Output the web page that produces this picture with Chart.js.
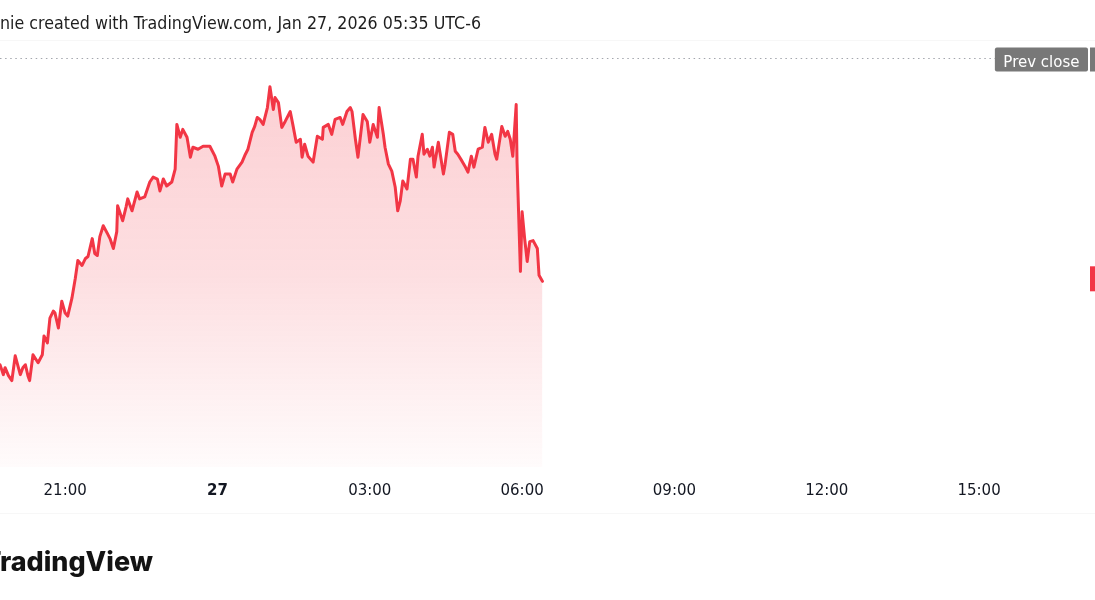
<!DOCTYPE html>
<html>
<head>
<meta charset="utf-8">
<script src="https://cdn.jsdelivr.net/npm/chart.js@4/dist/chart.umd.min.js"></script>
<style>
  html, body { margin: 0; padding: 0; background: #ffffff; }
  #wrap { position: relative; width: 1095px; height: 600px; overflow: hidden; background: #ffffff; }
  #chart { position: absolute; left: 0; top: 0; }
  #title { position: absolute; left: 0; top: 14px; white-space: nowrap; font-family: "DejaVu Sans", sans-serif; font-size: 18px; line-height: 1; color: #1e1e1e; transform-origin: 0 0; }
  #logo { position: absolute; top: 546px; white-space: nowrap; font-family: Inter, "Noto Sans", sans-serif; font-weight: 800; font-size: 29px; line-height: 1; color: #131313; }
  .sep { position: absolute; left: 0; width: 1095px; height: 1px; background: #f7f7f7; }
</style>
</head>
<body>
<div id="wrap">
  <canvas id="chart" width="1095" height="600"></canvas>
  <div class="sep" style="top:40px"></div>
  <div class="sep" style="top:513px"></div>
  <div id="title"></div>
  <div id="logo"></div>
</div>
<script>
// ---- texts ----
const titleText = "nie created with TradingView.com, Jan 27, 2026 05:35 UTC-6";
const logoText = "TradingView";
const prevCloseLabel = "Prev close";

// ---- visible time window (axis times) ----
const viewStart = "19:43";
const viewEnd = "17:17";

// ---- tick labels ----
const tickTimes  = ["21:00", "00:00", "03:00", "06:00", "09:00", "12:00", "15:00"];
const tickLabels = ["21:00", "27",    "03:00", "06:00", "09:00", "12:00", "15:00"];
const boldTickLabels = ["27"];

// ---- price range shown and previous close ----
const prevClose = 100.00;
const yMin = 95.88;
const yMax = 100.18;

// ---- series: times (axis clock) and prices ----
const times = [
  "19:43","19:47","19:49","19:53","19:57","20:01","20:07","20:10","20:13","20:16",
  "20:18","20:22","20:28","20:33","20:35","20:39","20:42","20:46","20:48","20:52",
  "20:56","21:00","21:03","21:08","21:12","21:15","21:20","21:24","21:27","21:32",
  "21:35","21:38","21:41","21:45","21:50","21:53","21:57","22:01","22:02","22:08",
  "22:12","22:14","22:19","22:25","22:28","22:34","22:40","22:44","22:49","22:52",
  "22:56","23:00","23:06","23:10","23:12","23:16","23:19","23:24","23:28","23:31",
  "23:37","23:43","23:51","23:57","00:01","00:05","00:09","00:15","00:18","00:23",
  "00:29","00:33","00:36","00:41","00:44","00:47","00:50","00:54","00:59","01:02",
  "01:06","01:08","01:12","01:16","01:20","01:26","01:29","01:33","01:38","01:40",
  "01:43","01:47","01:53","01:58","02:04","02:05","02:11","02:15","02:19","02:25",
  "02:28","02:33","02:37","02:39","02:43","02:46","02:52","02:57","03:00","03:04",
  "03:09","03:11","03:16","03:18","03:22","03:26","03:30","03:33","03:36","03:39",
  "03:44","03:48","03:51","03:55","03:57","04:02","04:04","04:08","04:11","04:14",
  "04:16","04:21","04:27","04:29","04:34","04:38","04:41","04:44","04:49","04:53",
  "04:56","05:00","05:03","05:08","05:13","05:16","05:20","05:24","05:28","05:30",
  "05:36","05:40","05:43","05:46","05:49","05:53","05:54","05:58","06:00","06:03",
  "06:06","06:09","06:13","06:18","06:20","06:24"
];
const prices = [
  96.91,96.81,96.88,96.80,96.75,97.00,96.81,96.88,96.91,96.80,
  96.75,97.01,96.93,97.01,97.20,97.13,97.38,97.45,97.43,97.28,
  97.55,97.43,97.40,97.58,97.78,97.96,97.91,97.98,98.00,98.18,
  98.03,98.01,98.20,98.31,98.23,98.18,98.08,98.25,98.51,98.36,
  98.50,98.58,98.46,98.65,98.58,98.60,98.75,98.80,98.78,98.66,
  98.78,98.71,98.75,98.88,99.33,99.20,99.28,99.20,99.00,99.10,
  99.08,99.11,99.11,99.01,98.91,98.71,98.83,98.83,98.75,98.88,
  98.95,99.03,99.08,99.25,99.31,99.40,99.38,99.33,99.50,99.71,
  99.48,99.60,99.55,99.30,99.36,99.46,99.33,99.15,99.18,99.00,
  99.13,99.01,98.95,99.21,99.18,99.30,99.33,99.23,99.38,99.40,
  99.33,99.46,99.50,99.46,99.18,99.00,99.43,99.36,99.15,99.33,
  99.20,99.50,99.23,99.10,98.93,98.86,98.70,98.46,98.56,98.76,
  98.68,98.98,98.98,98.80,99.01,99.23,99.03,99.08,99.01,99.10,
  98.90,99.15,98.83,98.93,99.25,99.23,99.06,99.03,98.96,98.90,
  98.85,99.01,98.90,99.08,99.10,99.30,99.15,99.23,99.03,98.98,
  99.31,99.21,99.26,99.18,99.01,99.53,98.95,97.85,98.45,98.18,
  97.95,98.15,98.16,98.08,97.81,97.75
];

// ---- colours ----
const lineColor = "#f23645";

function toMinutes(t) {
  const [h, m] = t.split(":").map(Number);
  const [sh, sm] = viewStart.split(":").map(Number);
  let v = h * 60 + m;
  if (v < sh * 60 + sm) v += 1440;
  return v;
}
const tickValues = tickTimes.map(toMinutes);
const points = times.map((t, i) => ({ x: toMinutes(t), y: prices[i] }));

// ---- header / footer text ----
const titleEl = document.getElementById("title");
titleEl.textContent = titleText;
const logoEl = document.getElementById("logo");
logoEl.textContent = logoText;
(function fitTexts() {
  const c = document.createElement("canvas").getContext("2d");
  c.font = '18px "DejaVu Sans"';
  const w = c.measureText(titleText).width;
  titleEl.style.transform = "scaleX(" + (481 / w) + ")";
  c.font = '800 29px Inter';
  const visible = c.measureText(logoText.slice(1)).width;
  const full = c.measureText(logoText).width;
  const s = 153 / visible;
  const size = 29 * s;
  logoEl.style.fontSize = size.toFixed(2) + "px";
  logoEl.style.top = (546 + (29 - size) * 0.86).toFixed(1) + "px";
  logoEl.style.left = (153 - full * s) + "px";
})();

const overlayPlugin = {
  id: "overlay",
  afterDatasetsDraw(chart) {
    const { ctx, chartArea, scales } = chart;
    const y = scales.y;
    const right = chartArea.right;
    // previous close dotted line
    const py = Math.round(y.getPixelForValue(prevClose)) + 0.5;
    ctx.save();
    ctx.strokeStyle = "#a3a6ad";
    ctx.lineWidth = 1.2;
    ctx.setLineDash([1.5, 3.6]);
    ctx.beginPath();
    ctx.moveTo(chartArea.left, py);
    ctx.lineTo(right, py);
    ctx.stroke();
    ctx.setLineDash([]);
    // Prev close label
    ctx.font = '15px "DejaVu Sans"';
    const tw = ctx.measureText(prevCloseLabel).width;
    const bw = tw + 17, bh = 24;
    const bx = right - 7 - bw, by = py - 11;
    ctx.fillStyle = "#787878";
    ctx.beginPath();
    ctx.roundRect(bx, by, bw, bh, 2);
    ctx.fill();
    ctx.fillRect(right - 5, by, 5, bh);
    ctx.fillStyle = "#ffffff";
    ctx.textBaseline = "alphabetic";
    ctx.textAlign = "left";
    ctx.fillText(prevCloseLabel, bx + 8.5, by + 19);
    // last price tag (cut at right edge)
    const last = prices[prices.length - 1];
    const ly = y.getPixelForValue(last);
    ctx.fillStyle = lineColor;
    ctx.fillRect(right - 5, ly - 15, 5, 25);
    ctx.restore();
  }
};

new Chart(document.getElementById("chart"), {
  type: "line",
  data: {
    datasets: [{
      data: points,
      borderColor: lineColor,
      borderWidth: 3,
      borderJoinStyle: "round",
      borderCapStyle: "round",
      pointRadius: 0,
      tension: 0,
      fill: "start",
      backgroundColor(context) {
        const area = context.chart.chartArea;
        if (!area) return "rgba(242,54,69,0.15)";
        const g = context.chart.ctx.createLinearGradient(0, area.top, 0, area.bottom);
        g.addColorStop(0, "rgba(242,54,69,0.25)");
        g.addColorStop(0.55, "rgba(242,54,69,0.16)");
        g.addColorStop(1, "rgba(242,54,69,0.02)");
        return g;
      }
    }]
  },
  options: {
    responsive: false,
    animation: false,
    devicePixelRatio: 1,
    layout: { padding: { top: 40, left: 0, right: 0, bottom: 85 } },
    plugins: { legend: { display: false }, tooltip: { enabled: false }, title: { display: false } },
    scales: {
      x: {
        type: "linear",
        min: toMinutes(viewStart),
        max: toMinutes(viewEnd),
        grid: { display: false, drawTicks: false },
        border: { display: false },
        afterBuildTicks(scale) { scale.ticks = tickValues.map(v => ({ value: v })); },
        ticks: {
          autoSkip: false,
          maxRotation: 0,
          padding: 15,
          color: "#131722",
          font(ctx) {
            const idx = ctx.tick ? tickValues.indexOf(ctx.tick.value) : -1;
            const bold = idx >= 0 && boldTickLabels.includes(tickLabels[idx]);
            return { family: "DejaVu Sans", size: 15, weight: bold ? "bold" : "normal" };
          },
          callback(value) {
            const idx = tickValues.indexOf(value);
            return idx >= 0 ? tickLabels[idx] : "";
          }
        }
      },
      y: { display: false, min: yMin, max: yMax }
    }
  },
  plugins: [overlayPlugin]
});
</script>
</body>
</html>
